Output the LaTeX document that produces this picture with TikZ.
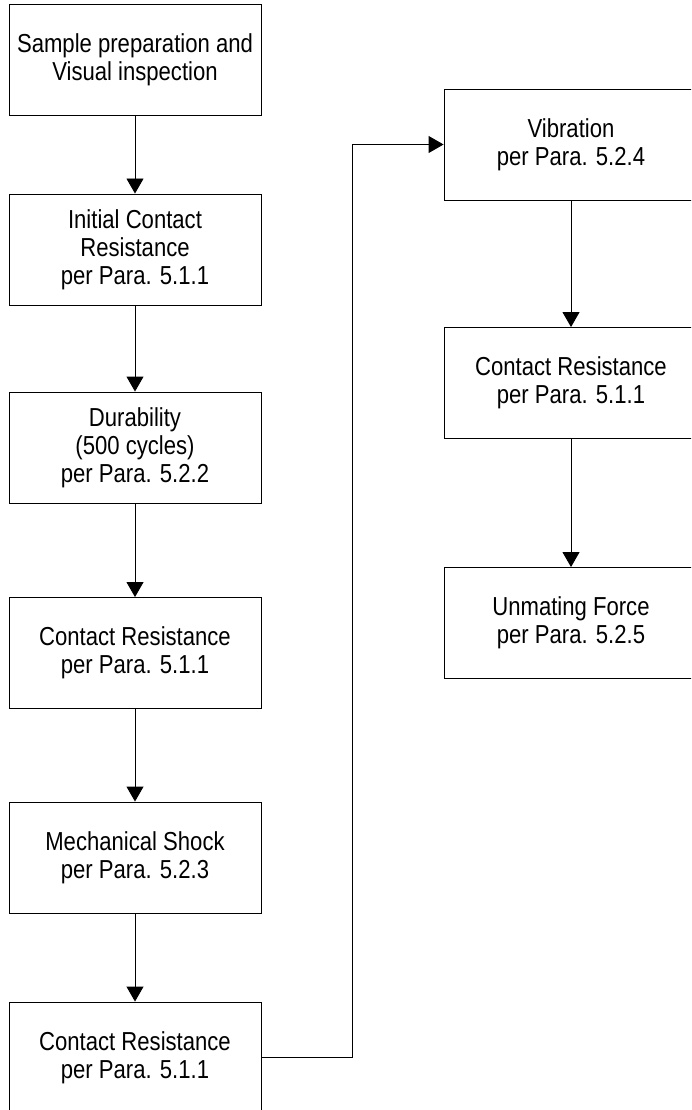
\documentclass[tikz,border=0pt]{standalone}
\usepackage{fontspec}
\newfontfamily\boxfont[FakeStretch=0.85]{Liberation Sans}
\usetikzlibrary{arrows.meta}

\begin{document}
\begin{tikzpicture}[x=1pt,y=-1pt,
	test_box/.style={rectangle,draw,line width=0.9pt,minimum width=252pt,minimum height=111pt,align=center,inner sep=0pt,font=\boxfont\fontsize{26}{28}\selectfont},
	flow/.style={line width=0.9pt,-{Triangle[width=17pt,length=15pt]}}]
		
		\clip[use as bounding box] (0,0) rectangle (691,1110);
		
		% left column
		\node[test_box] (prep) at (135,60) {Sample preparation and\\Visual inspection};
		\node[test_box] (icr) at (135,249.5) {Initial Contact\\Resistance\\per Para. 5.1.1};
		\node[test_box] (dur) at (135,447.5) {Durability\\(500 cycles)\\per Para. 5.2.2};
		\node[test_box] (cr1) at (135,653) {Contact Resistance\\per Para. 5.1.1};
		\node[test_box] (shock) at (135,857.5) {Mechanical Shock\\per Para. 5.2.3};
		\node[test_box] (cr2) at (135,1057.5) {Contact Resistance\\per Para. 5.1.1};
		
		% right column
		\node[test_box,minimum width=254pt] (vib) at (571,144.5) {Vibration\\per Para. 5.2.4};
		\node[test_box,minimum width=254pt] (cr3) at (571,383) {Contact Resistance\\per Para. 5.1.1};
		\node[test_box,minimum width=254pt] (unmate) at (571,623) {Unmating Force\\per Para. 5.2.5};
		
		\coordinate (bend) at (352,1057.5);
		
		\draw[flow] (prep) -- (icr);
		\draw[flow] (icr) -- (dur);
		\draw[flow] (dur) -- (cr1);
		\draw[flow] (cr1) -- (shock);
		\draw[flow] (shock) -- (cr2);
		\draw[flow] (cr2.east) -- (bend) |- (vib.west);
		\draw[flow] (vib) -- (cr3);
		\draw[flow] (cr3) -- (unmate);
		\end{tikzpicture}
\end{document}
